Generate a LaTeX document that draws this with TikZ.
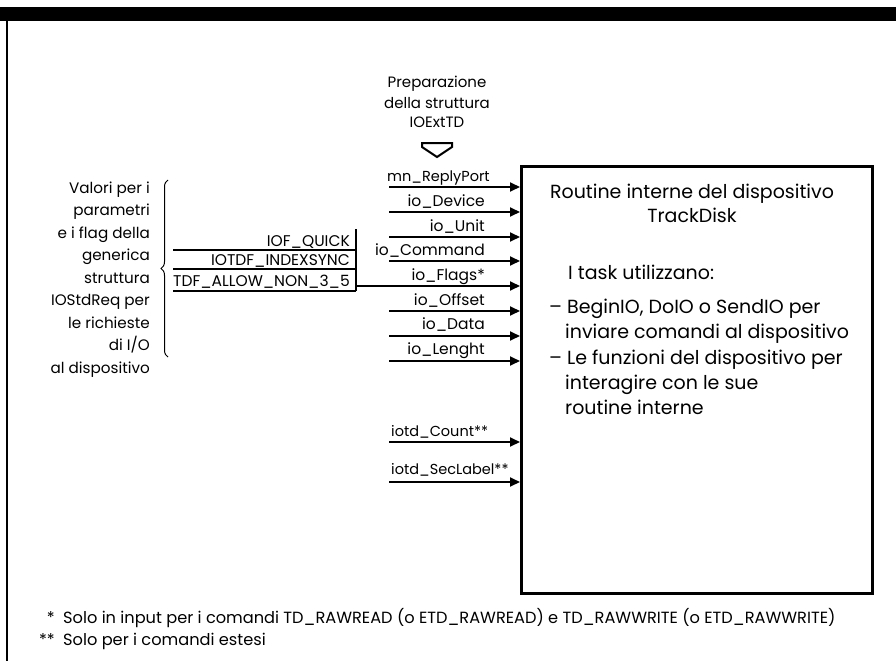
\documentclass[tikz,border=0pt]{standalone}
\usepackage{fontspec}
\setmainfont{Poppins}
\usetikzlibrary{arrows.meta,decorations.pathreplacing}
\tikzset{
  lbl/.style={font=\fontsize{15.5}{18}\selectfont, inner sep=0pt, anchor=base east},
  lbll/.style={font=\fontsize{14.5}{17}\selectfont, inner sep=0pt, anchor=base west},
  toptxt/.style={font=\fontsize{15}{17}\selectfont, inner sep=0pt, anchor=base},
  flagtxt/.style={font=\fontsize{15.5}{17}\selectfont, inner sep=0pt, anchor=base east},
  lefttxt/.style={font=\fontsize{15.2}{17}\selectfont, inner sep=0pt, anchor=base east},
  boxtxt/.style={font=\fontsize{19}{25}\selectfont, inner sep=0pt},
  foot/.style={font=\fontsize{16.2}{18}\selectfont, inner sep=0pt, anchor=base west},
  arr/.style={line width=1.8pt, -{Triangle[length=10pt,width=9pt]}},
  thin/.style={line width=1.3pt},
}
\begin{document}
\begin{tikzpicture}[x=1pt,y=-1pt]
\useasboundingbox (0,0) rectangle (896,661);
% frame
\fill (0,7) rectangle (896,21);
\draw[line width=2pt] (7,21) -- (7,661);
% main box
\node[draw, line width=2.6pt, minimum width=351pt, minimum height=427pt, anchor=north west, inner sep=0pt] (box) at (520,165) {};
% box text
\node[boxtxt, anchor=base] (t1) at (692,198) {Routine interne del dispositivo};
\node[boxtxt, anchor=base] (t2) at (692,222) {TrackDisk};
\node[boxtxt, anchor=base west] (t3) at (568,279) {I task utilizzano:};
\node[boxtxt, anchor=base west] (t4) at (549,313) {– BeginIO, DoIO o SendIO per};
\node[boxtxt, anchor=base west] (t5) at (565,338) {inviare comandi al dispositivo};
\node[boxtxt, anchor=base west] (t6) at (549,364) {– Le funzioni del dispositivo per};
\node[boxtxt, anchor=base west] (t7) at (565,389) {interagire con le sue};
\node[boxtxt, anchor=base west] (t8) at (565,414) {routine interne};
% top text and hollow arrow
\node[toptxt] (p1) at (437,87) {Preparazione};
\node[toptxt] (p2) at (437,108) {della struttura};
\node[toptxt] (p3) at (437,127) {IOExtTD};
\draw[line width=2pt, line join=miter] (422,143) -- (452,143) -- (452,147) -- (437,157) -- (422,147) -- cycle;
% arrows
\foreach \y/\n in {187/a1,212/a2,237/a3,261/a4,311/a6,336/a7,361/a8,442/a9,482/a10}{
  \coordinate (\n) at (389,\y);
  \draw[arr] (\n) -- (\n -| box.west);
}
\coordinate (fv) at (356,286);
\draw[arr] (fv) -- (fv -| box.west);
% labels
\node[lbll] (m1) at (387,181) {mn\_ReplyPort};
\node[lbl] (m2) at (485,206) {io\_Device};
\node[lbl] (m3) at (485,231) {io\_Unit};
\node[lbl] (m4) at (485,255) {io\_Command};
\node[lbl] (m5) at (485,280) {io\_Flags*};
\node[lbl] (m6) at (485,305) {io\_Offset};
\node[lbl] (m7) at (485,329) {io\_Data};
\node[lbl] (m8) at (485,354) {io\_Lenght};
\node[lbll] (m9) at (391,436) {iotd\_Count**};
\node[lbll] (m10) at (391,474) {iotd\_SecLabel**};
% flag boxes
\node[flagtxt] (f1) at (350,246) {IOF\_QUICK};
\node[flagtxt] (f2) at (350,265) {IOTDF\_INDEXSYNC};
\node[flagtxt] (f3) at (350,286) {TDF\_ALLOW\_NON\_3\_5};
\draw[thin] (173,250) -- (356,250);
\draw[thin] (173,269) -- (356,269);
\draw[thin] (173,291) -- (356,291);
\draw[thin] (356,229) -- (356,291);
% brace and left text
\draw[line width=1pt, decorate, decoration={brace, amplitude=7pt}] (168,357) -- (168,180);
\foreach \t [count=\i from 0] in {Valori per i, parametri, e i flag della, generica, struttura, IOStdReq per, le richieste, di I/O, al dispositivo}{
  \node[lefttxt] (l\i) at (150,{193+22.5*\i}) {\t};
}
% footnotes
\node[foot, anchor=base east] (s1) at (55,623) {*};
\node[foot] (n1) at (63,623) {Solo in input per i comandi TD\_RAWREAD (o ETD\_RAWREAD) e TD\_RAWWRITE (o ETD\_RAWWRITE)};
\node[foot, anchor=base east] (s2) at (55,645) {**};
\node[foot] (n2) at (63,645) {Solo per i comandi estesi};
\end{tikzpicture}
\end{document}
